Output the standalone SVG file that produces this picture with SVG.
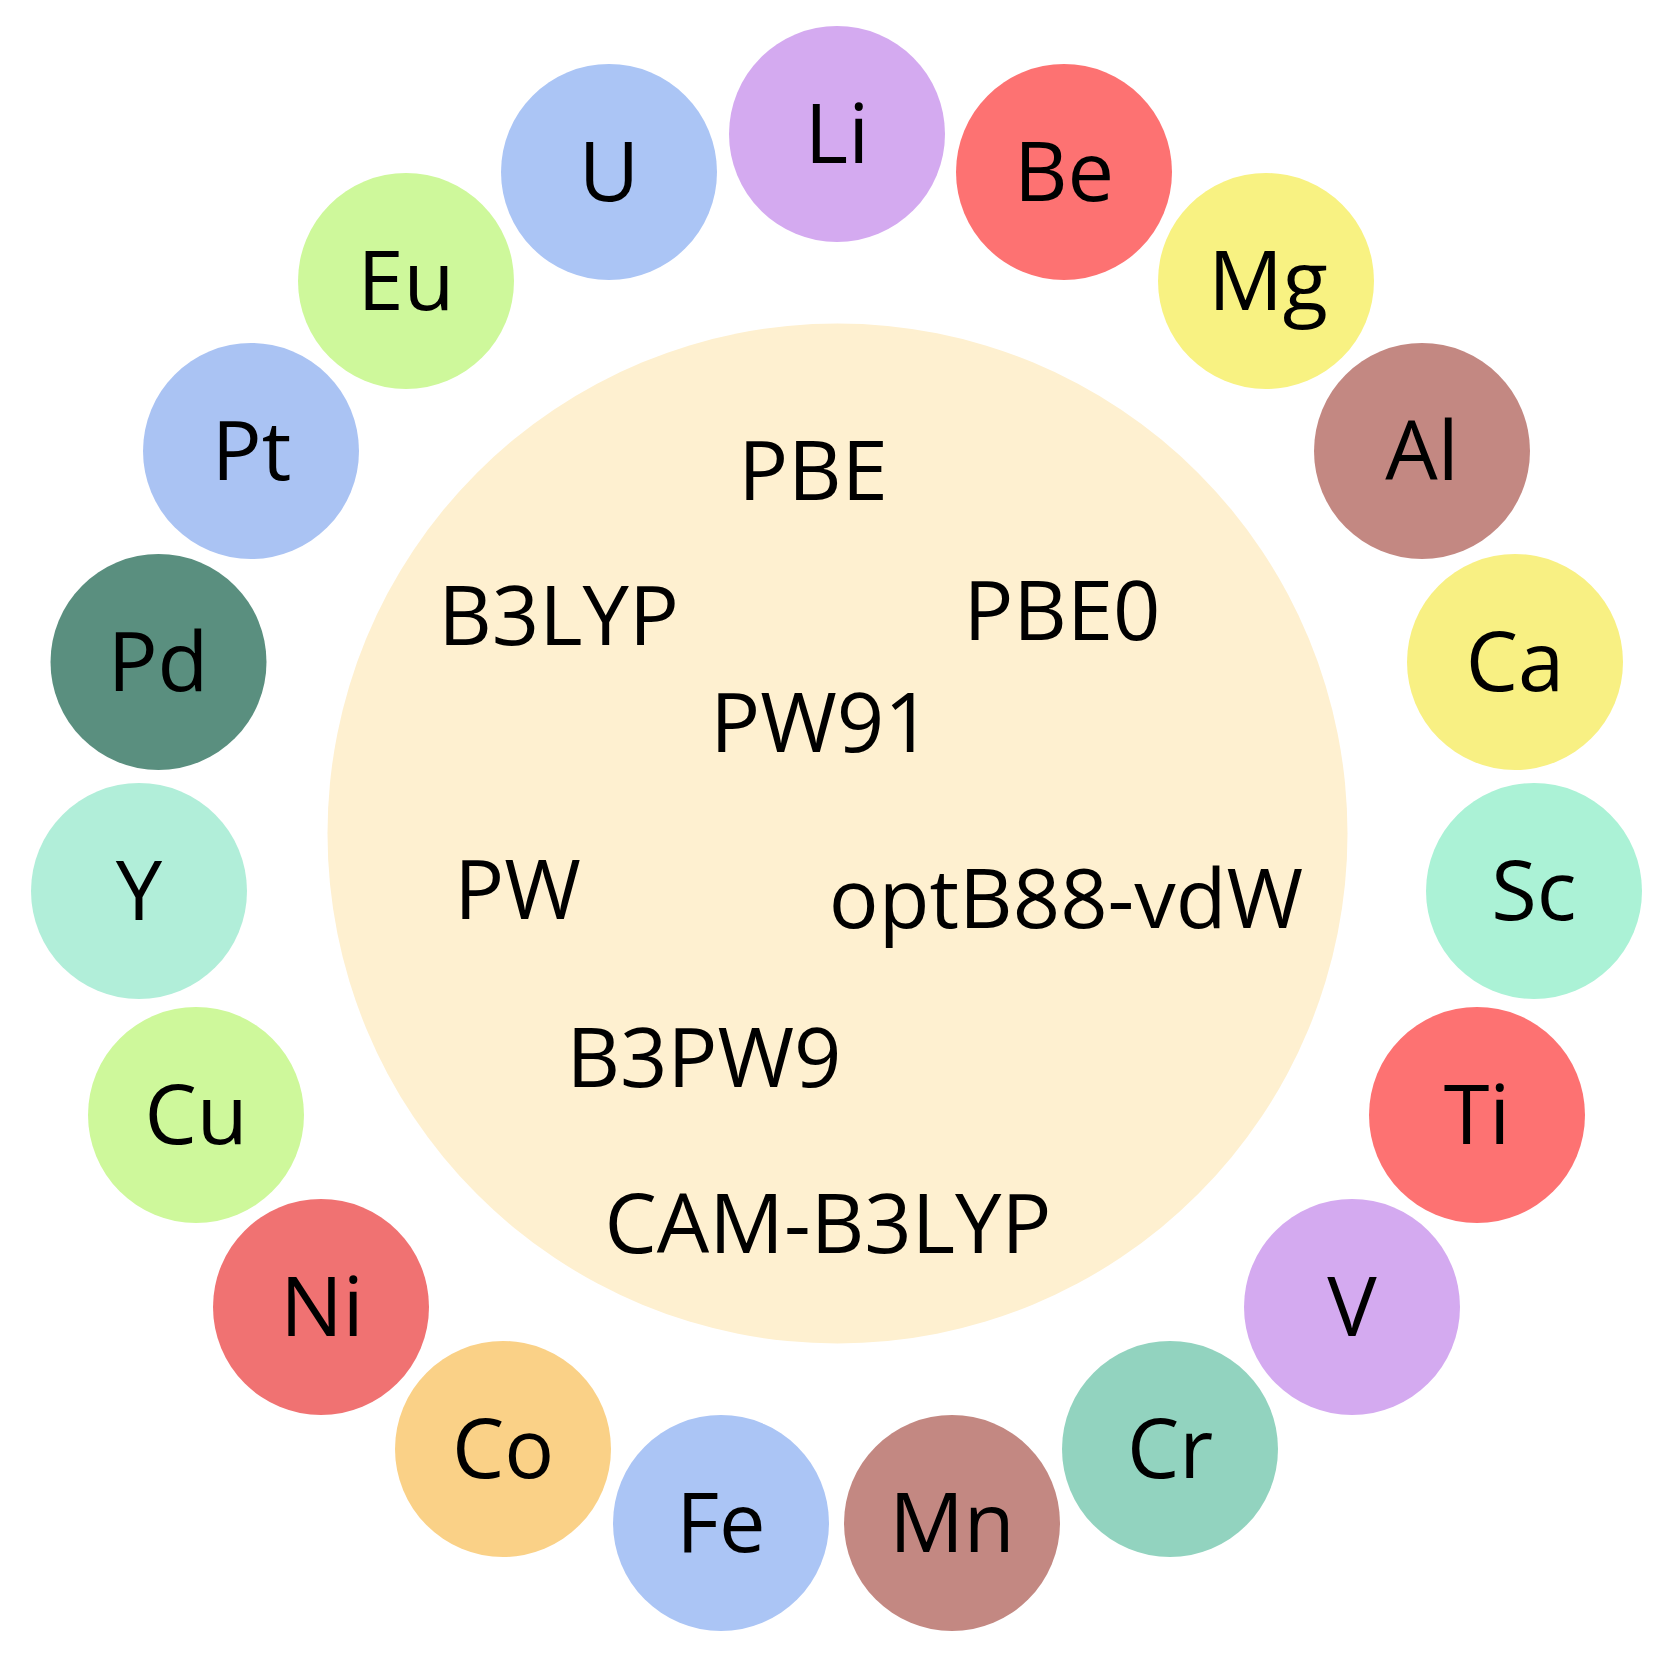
<svg xmlns="http://www.w3.org/2000/svg" width="1668" height="1662" viewBox="0 0 1668 1662">
<style>
text{font-family:"Open Sans","Noto Sans","Liberation Sans",sans-serif;font-size:83px;fill:#000;text-anchor:middle}
.el{stroke:none}
</style>
<rect width="1668" height="1662" fill="#fff"/>
<g id="center">
<circle cx="837.5" cy="833.5" r="510" fill="#FEF0D0"/>
<text x="813" y="500">PBE</text>
<text x="558.5" y="645">B3LYP</text>
<text x="1062" y="640">PBE0</text>
<text x="821" y="752">PW91</text>
<text x="517.5" y="919">PW</text>
<text x="1066" y="928">optB88-vdW</text>
<text x="704" y="1087">B3PW9</text>
<text x="828" y="1253">CAM-B3LYP</text>
</g>
<g id="connectors"></g>
<g id="Li"><circle class="el" cx="837" cy="134" r="108" fill="#D4AAF0"/><text x="837" y="163">Li</text></g>
<g id="Be"><circle class="el" cx="1064" cy="172" r="108" fill="#FD7272"/><text x="1064" y="201">Be</text></g>
<g id="Mg"><circle class="el" cx="1266" cy="281" r="108" fill="#F8F282"/><text x="1268" y="310">Mg</text></g>
<g id="Al"><circle class="el" cx="1422" cy="451" r="108" fill="#C38882"/><text x="1422" y="480">Al</text></g>
<g id="Ca"><circle class="el" cx="1515" cy="662" r="108" fill="#F8F083"/><text x="1515" y="691">Ca</text></g>
<g id="Sc"><circle class="el" cx="1534" cy="891" r="108" fill="#ABF2D6"/><text x="1534" y="920">Sc</text></g>
<g id="Ti"><circle class="el" cx="1477" cy="1115" r="108" fill="#FD7272"/><text x="1477" y="1144">Ti</text></g>
<g id="V"><circle class="el" cx="1352" cy="1307" r="108" fill="#D4AAF0"/><text x="1352" y="1336">V</text></g>
<g id="Cr"><circle class="el" cx="1170" cy="1449" r="108" fill="#92D3BF"/><text x="1170" y="1478">Cr</text></g>
<g id="Mn"><circle class="el" cx="952" cy="1523" r="108" fill="#C38882"/><text x="952" y="1552">Mn</text></g>
<g id="Fe"><circle class="el" cx="721" cy="1523" r="108" fill="#ABC5F5"/><text x="721" y="1552">Fe</text></g>
<g id="Co"><circle class="el" cx="503" cy="1449" r="108" fill="#FAD187"/><text x="503" y="1478">Co</text></g>
<g id="Ni"><circle class="el" cx="321" cy="1307" r="108" fill="#F07272"/><text x="322" y="1336">Ni</text></g>
<g id="Cu"><circle class="el" cx="196" cy="1115" r="108" fill="#CEF89B"/><text x="196" y="1144">Cu</text></g>
<g id="Y"><circle class="el" cx="139" cy="891" r="108" fill="#B1EED9"/><text x="139" y="920">Y</text></g>
<g id="Pd"><circle class="el" cx="158.5" cy="662" r="108" fill="#5A8F7F"/><text x="158" y="691">Pd</text></g>
<g id="Pt"><circle class="el" cx="251" cy="451" r="108" fill="#AAC3F3"/><text x="251.5" y="480">Pt</text></g>
<g id="Eu"><circle class="el" cx="406" cy="281" r="108" fill="#CEF89B"/><text x="406" y="310">Eu</text></g>
<g id="U"><circle class="el" cx="609" cy="172" r="108" fill="#ABC5F5"/><text x="609" y="201">U</text></g>
</svg>
